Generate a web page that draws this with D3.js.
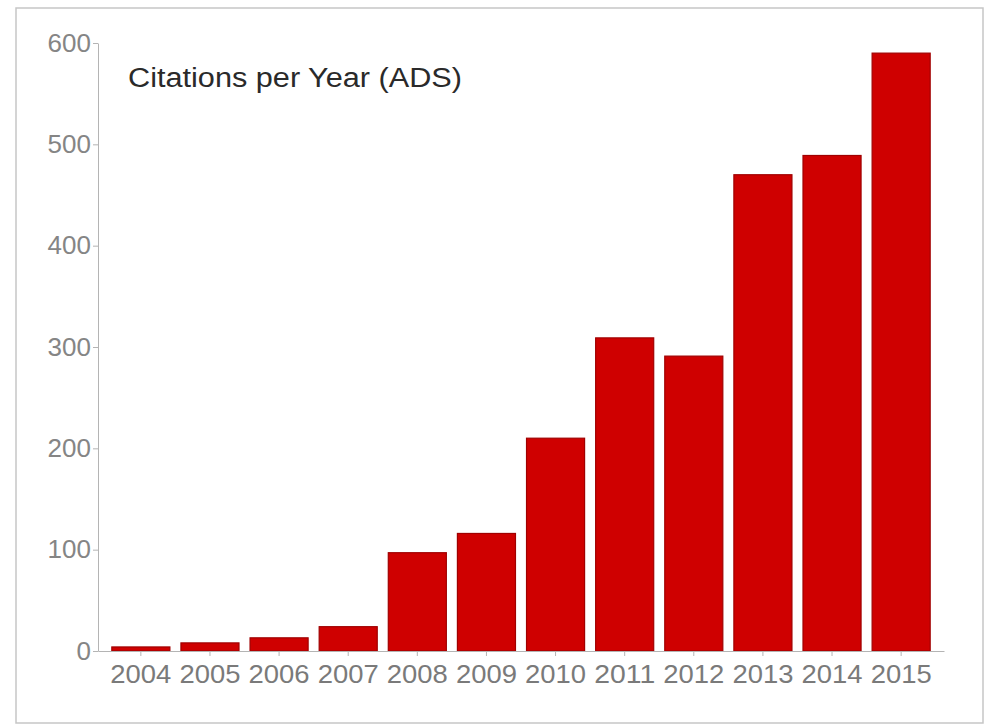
<!DOCTYPE html>
<html>
<head>
<meta charset="utf-8">
<script src="https://cdn.jsdelivr.net/npm/d3@7"></script>
<style>
    body { margin: 0; background: #fff; }
    .axis text { font-family: "Liberation Sans", Arial, sans-serif; fill: #858585; }
    .axis path, .axis line { stroke: #b4b4b4; }
</style>
</head>
<body>
<div id="chart"></div>
<script>
const years = ['2004', '2005', '2006', '2007', '2008', '2009', '2010', '2011', '2012', '2013', '2014', '2015'];
const citations = [4, 8, 13, 24, 97, 116, 210, 309, 291, 470, 489, 590];
const yTicks = [0, 100, 200, 300, 400, 500, 600];
const title = 'Citations per Year (ADS)';

const width = 987;
const height = 728;

const data = years.map((y, i) => ({ year: y, value: citations[i] }));

const svg = d3.select('#chart')
    .append('svg')
    .attr('width', width)
    .attr('height', height);

// outer frame
svg.append('rect')
    .attr('x', 16)
    .attr('y', 8)
    .attr('width', 967)
    .attr('height', 715)
    .attr('fill', 'none')
    .attr('stroke', '#c6c6c6')
    .attr('stroke-width', 1.5);

const x = d3.scaleBand()
    .domain(years)
    .range([98, 944])
    .paddingInner(0.16)
    .paddingOuter(0.2);

const y = d3.scaleLinear()
    .domain([0, 600])
    .range([651, 43]);

svg.selectAll('rect.bar')
    .data(data)
    .enter()
    .append('rect')
    .attr('class', 'bar')
    .attr('x', d => x(d.year))
    .attr('y', d => y(d.value))
    .attr('width', x.bandwidth())
    .attr('height', d => y(0) - y(d.value))
    .attr('fill', '#cf0000')
    .attr('stroke', '#a00000')
    .attr('stroke-width', 1.2);

const yAxis = svg.append('g')
    .attr('class', 'axis')
    .attr('transform', 'translate(98, 0)')
    .call(d3.axisLeft(y)
        .tickValues(yTicks)
        .tickSize(5)
        .tickPadding(2)
        .tickSizeOuter(0));

yAxis.selectAll('text')
    .style('font-size', '26px');

const xAxis = svg.append('g')
    .attr('class', 'axis')
    .attr('transform', `translate(0, ${y(0)})`)
    .call(d3.axisBottom(x)
        .tickSize(5)
        .tickPadding(9)
        .tickSizeOuter(0));

xAxis.select('.domain').attr('stroke', '#e0e0e0');

xAxis.selectAll('text')
    .style('font-size', '26px')
    .style('fill', '#7a7a7a')
    .attr('textLength', 61)
    .attr('lengthAdjust', 'spacingAndGlyphs');

svg.append('text')
    .attr('x', 128)
    .attr('y', 87)
    .style('font-family', '"Liberation Sans", Arial, sans-serif')
    .style('font-size', '27px')
    .style('fill', '#2a2a2a')
    .attr('textLength', 334)
    .attr('lengthAdjust', 'spacingAndGlyphs')
    .text(title);
</script>
</body>
</html>
